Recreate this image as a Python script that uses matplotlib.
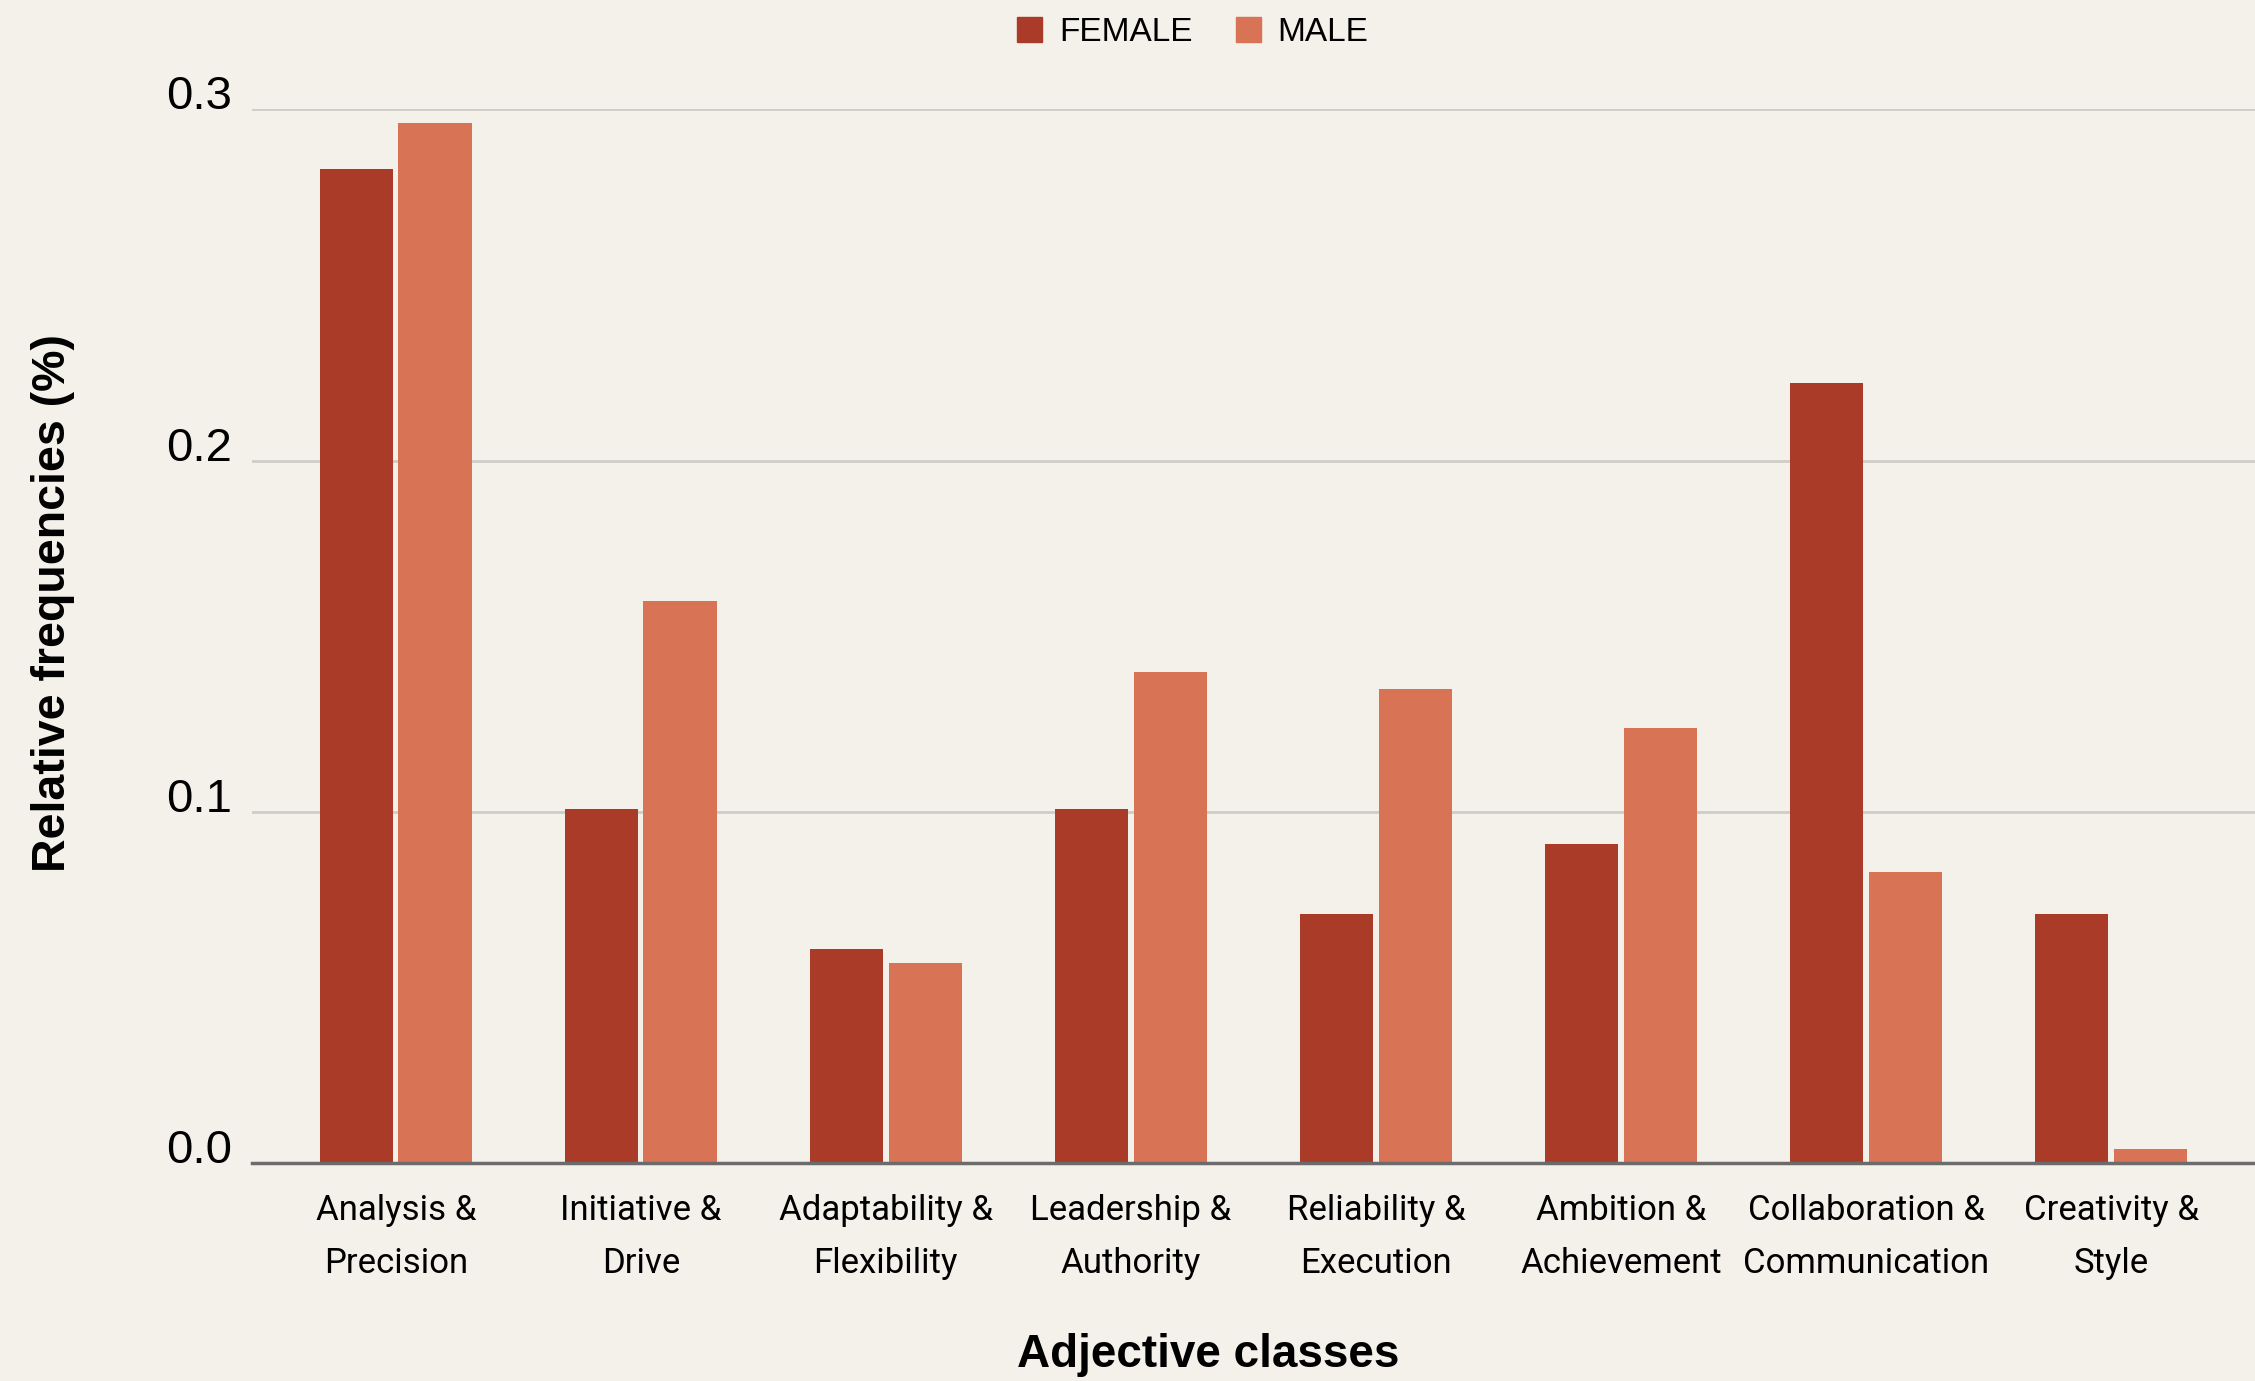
import matplotlib.pyplot as plt
import numpy as np
from matplotlib.patches import Patch

# relative frequency of adjective classes by gender
categories = ['Analysis &\nPrecision', 'Initiative &\nDrive', 'Adaptability &\nFlexibility',
              'Leadership &\nAuthority', 'Reliability &\nExecution', 'Ambition &\nAchievement',
              'Collaboration &\nCommunication', 'Creativity &\nStyle']
female = [0.283, 0.101, 0.061, 0.101, 0.071, 0.091, 0.222, 0.071]
male = [0.296, 0.160, 0.057, 0.140, 0.135, 0.124, 0.083, 0.004]
yticks = [0.0, 0.1, 0.2, 0.3]
ytick_labels = ['0.0', '0.1', '0.2', '0.3']

BG = '#f4f1ea'
C_FEMALE = '#a93b28'
C_MALE = '#d87356'

plt.rcParams['font.family'] = ['Roboto', 'DejaVu Sans']

fig = plt.figure(figsize=(22.55, 13.81), dpi=100, facecolor=BG)
ax = fig.add_axes([0.1117, 0.1575, 0.8883, 0.7634])
ax.set_facecolor(BG)

x = np.arange(len(categories))
w = 0.30
ax.bar(x - 0.161, female, w, color=C_FEMALE, zorder=3)
ax.bar(x + 0.161, male, w, color=C_MALE, zorder=3)

ax.set_xlim(-0.587, len(categories) - 1 + 0.587)
ax.set_ylim(0, 0.3)
for s in ['top', 'right', 'left']:
    ax.spines[s].set_visible(False)
ax.spines['bottom'].set_color('#6b6b6b')
ax.spines['bottom'].set_linewidth(2.5)
ax.spines['bottom'].set_zorder(4)

ax.set_yticks(yticks)
ax.set_yticklabels(ytick_labels, va='baseline', fontsize=34, family=['Liberation Sans', 'DejaVu Sans'])
ax.set_xticks(x)
ax.set_xticklabels(categories, fontsize=25, linespacing=1.75)
ax.tick_params(axis='both', length=0)
ax.tick_params(axis='x', pad=22)
ax.tick_params(axis='y', pad=14)
ax.grid(axis='y', color='#cfcdc8', linewidth=2, zorder=0)
ax.set_axisbelow(True)

fig.text(0.0235, 0.5633, 'Relative frequencies (%)', rotation=90, ha='center', va='center',
         fontsize=33.5, fontweight='bold', family=['Liberation Sans', 'DejaVu Sans'])
fig.text(0.5357, 0.0188, 'Adjective classes', ha='center', va='center',
         fontsize=33, fontweight='bold', family=['Liberation Sans', 'DejaVu Sans'])

handles = [Patch(color=C_FEMALE, label='FEMALE'), Patch(color=C_MALE, label='MALE')]
fig.legend(handles=handles, loc='upper center', bbox_to_anchor=(0.529, 1.002), ncol=2,
           frameon=False, handlelength=0.75, handleheight=0.75,
           handletextpad=0.5, columnspacing=1.3, borderaxespad=0.2,
           prop={'family': ['Liberation Sans', 'DejaVu Sans'], 'size': 24})

fig.savefig('out.png', dpi=100, facecolor=BG)
